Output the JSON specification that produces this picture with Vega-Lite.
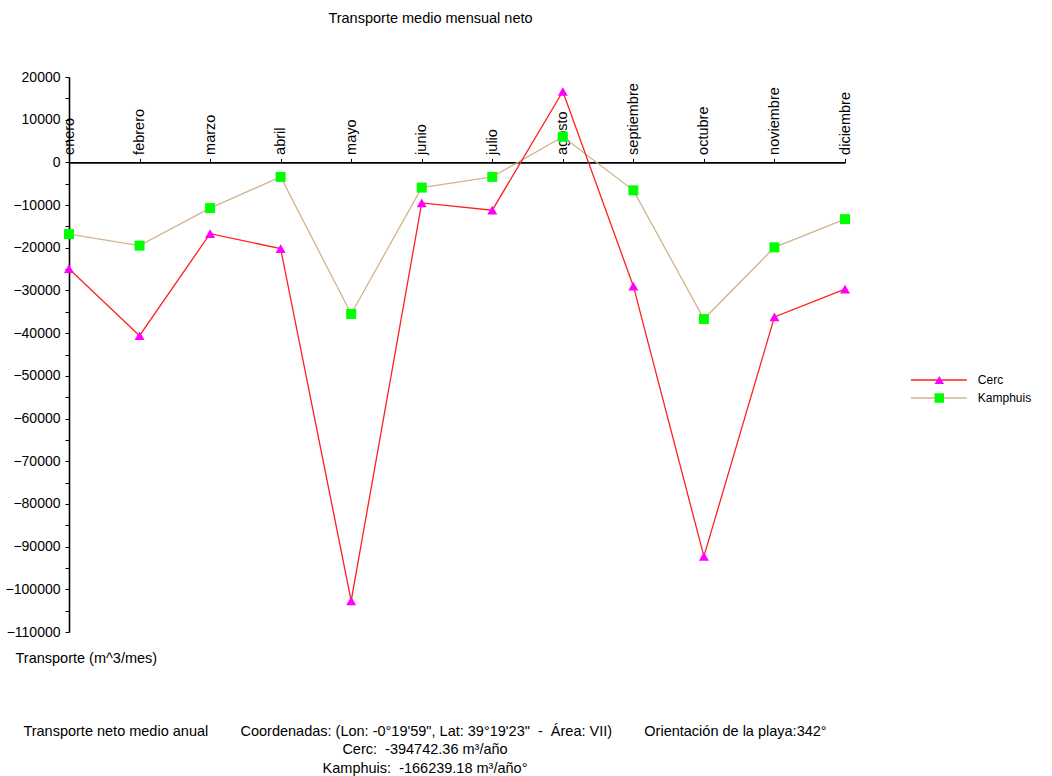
{
  "$schema": "https://vega.github.io/schema/vega-lite/v6.json",
  "width": 776,
  "height": 555,
  "autosize": {"type": "none"},
  "padding": {"left": 69, "top": 77, "right": 207, "bottom": 144},
  "background": "white",
  "view": {"stroke": null},
  "config": {
    "font": "Liberation Sans",
    "axis": {"labelFont": "Liberation Sans", "titleFont": "Liberation Sans", "labelColor": "black", "titleColor": "black", "domainColor": "black", "tickColor": "black", "grid": false, "labelFontSize": 14, "titleFontSize": 14.5, "titleFontWeight": "normal"},
    "legend": {"labelFont": "Liberation Sans", "labelFontSize": 12, "labelColor": "black"}
  },
  "title": {
    "text": [
      "Transporte neto medio anual\u00a0\u00a0\u00a0\u00a0\u00a0\u00a0\u00a0\u00a0Coordenadas: (Lon: -0°19'59\", Lat: 39°19'23\"\u00a0\u00a0-\u00a0\u00a0Área: VII)\u00a0\u00a0\u00a0\u00a0\u00a0\u00a0\u00a0\u00a0Orientación de la playa:342°",
      "Cerc:\u00a0\u00a0-394742.36 m³/año",
      "Kamphuis:\u00a0\u00a0-166239.18 m³/año°"
    ],
    "orient": "bottom",
    "anchor": "middle",
    "frame": "group",
    "dx": -32,
    "offset": 60,
    "font": "Liberation Sans",
    "fontSize": 14.5,
    "fontWeight": "normal",
    "color": "black",
    "lineHeight": 18.5
  },
  "data": {
    "values": [
      {"mes": "enero", "serie": "Kamphuis", "valor": -16800},
      {"mes": "febrero", "serie": "Kamphuis", "valor": -19500},
      {"mes": "marzo", "serie": "Kamphuis", "valor": -10700},
      {"mes": "abril", "serie": "Kamphuis", "valor": -3400},
      {"mes": "mayo", "serie": "Kamphuis", "valor": -35500},
      {"mes": "junio", "serie": "Kamphuis", "valor": -5900},
      {"mes": "julio", "serie": "Kamphuis", "valor": -3400},
      {"mes": "agosto", "serie": "Kamphuis", "valor": 6000},
      {"mes": "septiembre", "serie": "Kamphuis", "valor": -6550},
      {"mes": "octubre", "serie": "Kamphuis", "valor": -36700},
      {"mes": "noviembre", "serie": "Kamphuis", "valor": -19900},
      {"mes": "diciembre", "serie": "Kamphuis", "valor": -13300},
      {"mes": "enero", "serie": "Cerc", "valor": -24900},
      {"mes": "febrero", "serie": "Cerc", "valor": -40600},
      {"mes": "marzo", "serie": "Cerc", "valor": -16700},
      {"mes": "abril", "serie": "Cerc", "valor": -20200},
      {"mes": "mayo", "serie": "Cerc", "valor": -102700},
      {"mes": "junio", "serie": "Cerc", "valor": -9500},
      {"mes": "julio", "serie": "Cerc", "valor": -11200},
      {"mes": "agosto", "serie": "Cerc", "valor": 16600},
      {"mes": "septiembre", "serie": "Cerc", "valor": -29000},
      {"mes": "octubre", "serie": "Cerc", "valor": -92300},
      {"mes": "noviembre", "serie": "Cerc", "valor": -36200},
      {"mes": "diciembre", "serie": "Cerc", "valor": -29700}
    ]
  },
  "encoding": {
    "x": {
      "field": "mes",
      "type": "nominal",
      "sort": null,
      "scale": {"type": "point", "padding": 0, "domain": ["enero", "febrero", "marzo", "abril", "mayo", "junio", "julio", "agosto", "septiembre", "octubre", "noviembre", "diciembre"]},
      "axis": {
        "orient": "top",
        "offset": -85.4,
        "labelAngle": -90,
        "labelAlign": "left",
        "labelBaseline": "middle",
        "labelPadding": 4,
        "tickSize": 4,
        "ticks": true,
        "domainWidth": 1.6,
        "labelFontSize": 14.5,
        "title": "Transporte medio mensual neto",
        "titleX": 361,
        "titleY": -144,
        "titleAlign": "center",
        "titleBaseline": "middle",
        "titleAngle": 0,
        "labelOverlap": false
      }
    },
    "y": {
      "field": "valor",
      "type": "quantitative",
      "scale": {"domain": [-110000, 20000], "nice": false, "zero": false},
      "axis": {
        "values": [20000, 15000, 10000, 5000, 0, -5000, -10000, -15000, -20000, -25000, -30000, -35000, -40000, -45000, -50000, -55000, -60000, -65000, -70000, -75000, -80000, -85000, -90000, -95000, -100000, -105000, -110000],
        "labelExpr": "datum.value % 10000 == 0 ? format(datum.value, 'd') : ''",
        "tickSize": 4,
        "domainWidth": 1.6,
        "labelPadding": 5,
        "labelFontSize": 14,
        "title": "Transporte (m^3/mes)",
        "titleAngle": 0,
        "titleX": -54,
        "titleY": 581,
        "titleAlign": "left",
        "titleBaseline": "middle",
        "labelOverlap": false
      }
    }
  },
  "layer": [
    {
      "mark": {"type": "line", "strokeWidth": 1.3},
      "encoding": {
        "stroke": {
          "field": "serie",
          "type": "nominal",
          "scale": {"domain": ["Cerc", "Kamphuis"], "range": ["#FF2020", "#D2B48C"]},
          "legend": {
            "title": null,
            "orient": "none",
            "legendX": 835.4,
            "legendY": 296,
            "symbolType": "M0,0H10",
            "symbolSize": 125,
            "symbolStrokeWidth": 1.5,
            "clipHeight": 14,
            "rowPadding": 4,
            "labelOffset": 60.4,
            "labelFontSize": 12
          }
        }
      }
    },
    {
      "mark": {"type": "point", "filled": true, "opacity": 1, "strokeWidth": 0},
      "encoding": {
        "fill": {
          "field": "serie",
          "type": "nominal",
          "scale": {"range": ["#FF00FF", "#00FF00"]},
          "legend": {
            "title": null,
            "orient": "none",
            "legendX": 864.3,
            "legendY": 296,
            "symbolSize": 90,
            "symbolStrokeWidth": 0,
            "clipHeight": 14,
            "rowPadding": 4,
            "labelExpr": "''",
            "labelFontSize": 12
          }
        },
        "shape": {
          "field": "serie",
          "type": "nominal",
          "scale": {"range": ["triangle-up", "square"]}
        },
        "size": {"value": 100}
      }
    }
  ]
}
